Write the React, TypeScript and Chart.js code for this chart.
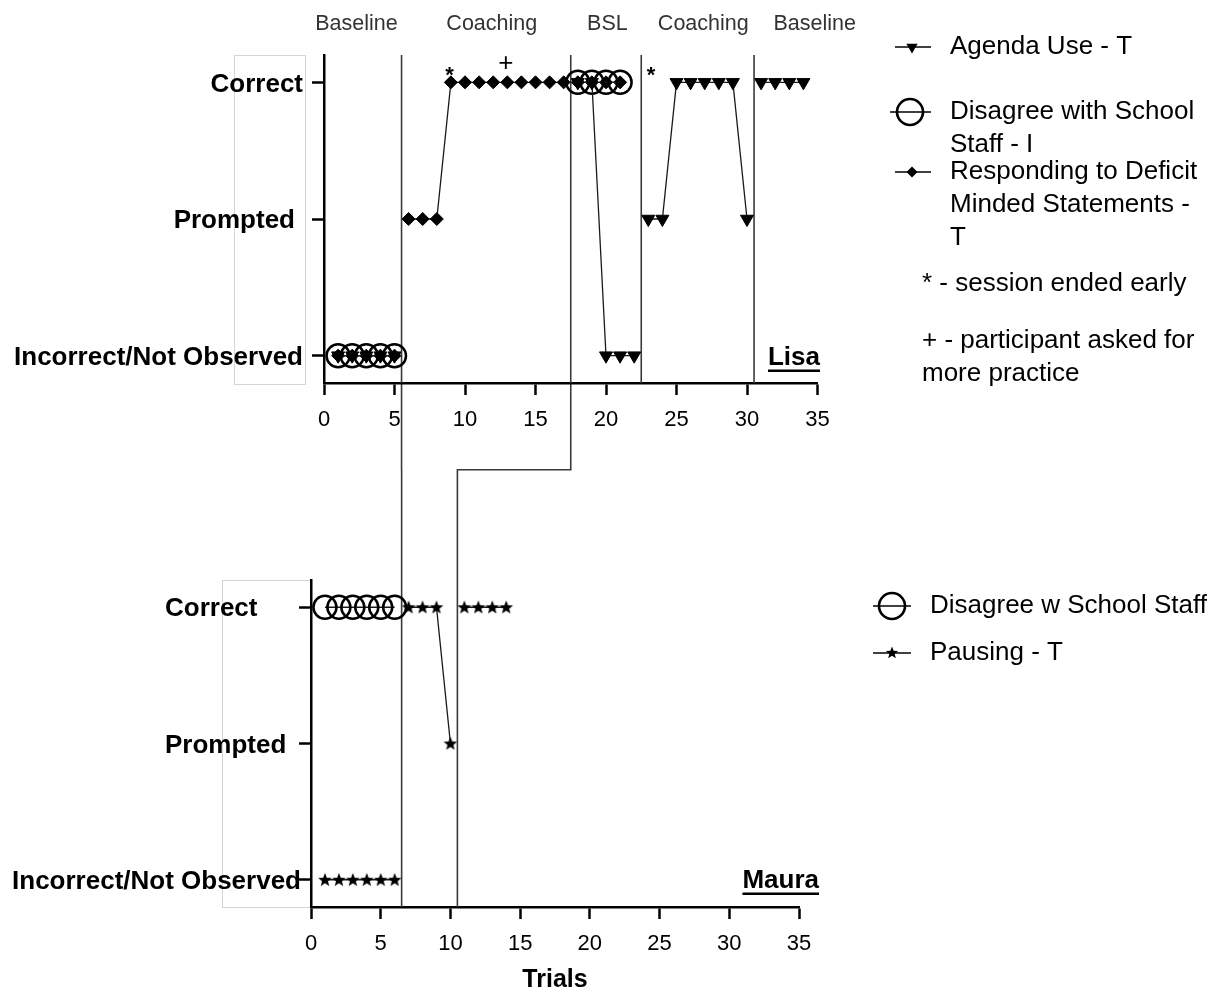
import React, { useEffect, useRef } from 'react';
import { Chart, registerables } from 'chart.js';

Chart.register(...registerables);

// ---------------- data ----------------
const lisaTrials = [1, 2, 3, 4, 5, 6, 7, 8, 9, 10, 11, 12, 13, 14, 15, 16, 17, 18, 19, 20, 21, 22, 23, 24, 25, 26, 27, 28, 29, 30, 31, 32, 33, 34];
// 0 = Incorrect/Not Observed, 1 = Prompted, 2 = Correct
const lisaAgendaUse = [0, 0, 0, 0, 0, null, null, null, null, null, null, null, null, null, null, null, null, 2, 2, 0, 0, 0, 1, 1, 2, 2, 2, 2, 2, 1, 2, 2, 2, 2];
const lisaDisagree = [0, 0, 0, 0, 0, null, null, null, null, null, null, null, null, null, null, null, null, 2, 2, 2, 2, null, null, null, null, null, null, null, null, null, null, null, null, null];
const lisaDeficit = [0, 0, 0, 0, 0, 1, 1, 1, 2, 2, 2, 2, 2, 2, 2, 2, 2, 2, 2, 2, 2, null, null, null, null, null, null, null, null, null, null, null, null, null];
const lisaPhaseChanges = [5.5, 17.5, 22.5, 30.5];
const lisaPhaseNames = ['Baseline', 'Coaching', 'BSL', 'Coaching', 'Baseline'];
const lisaPhaseNameTrials = [2.3, 11.9, 20.1, 26.9, 34.8];
const lisaNoteTrials = [8.9, 12.9, 23.2];
const lisaNoteMarks = ['*', '+', '*'];

const mauraTrials = [1, 2, 3, 4, 5, 6, 7, 8, 9, 10, 11, 12, 13, 14];
const mauraDisagree = [2, 2, 2, 2, 2, 2, null, null, null, null, null, null, null, null];
const mauraPausing = [0, 0, 0, 0, 0, 0, 2, 2, 2, 1, 2, 2, 2, 2];
const mauraPhaseChanges = [6.5, 10.5];

// phase change lines continuing from Lisa's graph into Maura's graph
const linkedPhaseTop = [5.5, 17.5];
const linkedPhaseBottom = [6.5, 10.5];

const yTickValues = [0, 1, 2];
const yTickLabels = ['Incorrect/Not Observed', 'Prompted', 'Correct'];
const xTickValues = [0, 5, 10, 15, 20, 25, 30, 35];

const lisaLegendLines = [['Agenda Use - T'], ['Disagree with School', 'Staff - I'], ['Responding to Deficit', 'Minded Statements -', 'T']];
const lisaNoteLines = ['* - session ended early', '+ - participant asked for', 'more practice'];
const mauraLegendLines = [['Disagree w School Staff'], ['Pausing - T']];

// ---------------- layout / style ----------------
const W = 1211;
const H = 992;
const FONT = '"Liberation Sans", Arial, Helvetica, sans-serif';
const INK = '#000';
const LINE_INK = '#1a1a1a';
const PHASE_INK = '#3a3a3a';

const TOP = { left: 324, right: 817.5, top: 55, bottom: 383, xAxisH: 60 };
const BOT = { left: 311, right: 799, top: 580, bottom: 907, xAxisH: 85 };

const lisaYLabelAnchor = [
  { align: 'right', x: 303 },
  { align: 'right', x: 295 },
  { align: 'right', x: 303 },
];
const mauraYLabelAnchor = [
  { align: 'right', x: 301 },
  { align: 'left', x: 165 },
  { align: 'left', x: 165 },
];

// ---------------- helpers ----------------
function toPoints(trials: number[], values: (number | null)[]) {
  return trials.map((t, i) => ({ x: t, y: values[i] }));
}

function crosses(a: number, b: number, phases: number[]) {
  return phases.some((p) => (a - p) * (b - p) < 0);
}

function pathTriangleDown(ctx: CanvasRenderingContext2D, x: number, y: number, r: number) {
  ctx.beginPath();
  ctx.moveTo(x - r * 0.866, y - r * 0.5);
  ctx.lineTo(x + r * 0.866, y - r * 0.5);
  ctx.lineTo(x, y + r);
  ctx.closePath();
}
function pathDiamond(ctx: CanvasRenderingContext2D, x: number, y: number, r: number) {
  ctx.beginPath();
  ctx.moveTo(x, y - r);
  ctx.lineTo(x + r, y);
  ctx.lineTo(x, y + r);
  ctx.lineTo(x - r, y);
  ctx.closePath();
}
function pathStar(ctx: CanvasRenderingContext2D, x: number, y: number, R: number, ri: number) {
  ctx.beginPath();
  for (let i = 0; i < 10; i++) {
    const a = -Math.PI / 2 + (i * Math.PI) / 5;
    const rr = i % 2 === 0 ? R : ri;
    const px = x + Math.cos(a) * rr;
    const py = y + Math.sin(a) * rr;
    if (i === 0) ctx.moveTo(px, py);
    else ctx.lineTo(px, py);
  }
  ctx.closePath();
}

function makeStarImage() {
  const c = document.createElement('canvas');
  c.width = 16;
  c.height = 16;
  const g = c.getContext('2d')!;
  pathStar(g, 8, 8.5, 7.2, 3.1);
  g.fillStyle = INK;
  g.fill();
  return c;
}

function drawMarker(ctx: CanvasRenderingContext2D, kind: string, x: number, y: number, x0: number, x1: number) {
  ctx.save();
  ctx.strokeStyle = INK;
  ctx.fillStyle = INK;
  ctx.lineWidth = 1.5;
  ctx.beginPath();
  ctx.moveTo(x0, y);
  ctx.lineTo(x1, y);
  ctx.stroke();
  if (kind === 'triangle') {
    pathTriangleDown(ctx, x, y, 6.5);
    ctx.fill();
  } else if (kind === 'diamond') {
    pathDiamond(ctx, x, y, 5.5);
    ctx.fill();
  } else if (kind === 'star') {
    pathStar(ctx, x, y, 6.5, 2.8);
    ctx.fill();
  } else if (kind === 'circle') {
    ctx.lineWidth = 2.6;
    ctx.beginPath();
    ctx.arc(x, y, 13, 0, Math.PI * 2);
    ctx.stroke();
  }
  ctx.restore();
}

function text(ctx: CanvasRenderingContext2D, s: string, x: number, y: number, font: string, align: CanvasTextAlign = 'left', color = INK) {
  ctx.save();
  ctx.font = font;
  ctx.fillStyle = color;
  ctx.textAlign = align;
  ctx.textBaseline = 'middle';
  ctx.fillText(s, x, y);
  ctx.restore();
}

function drawYLabels(chart: any, anchors: { align: string; x: number }[]) {
  const { ctx } = chart;
  const y = chart.scales.y;
  yTickValues.forEach((v, i) => {
    text(ctx, yTickLabels[i], anchors[i].x, y.getPixelForValue(v) + 2, `bold 26px ${FONT}`, anchors[i].align as CanvasTextAlign);
  });
}

function drawPhaseLines(chart: any, phases: number[]) {
  const { ctx, chartArea } = chart;
  const x = chart.scales.x;
  ctx.save();
  ctx.strokeStyle = PHASE_INK;
  ctx.lineWidth = 1.6;
  phases.forEach((p) => {
    const px = x.getPixelForValue(p);
    ctx.beginPath();
    ctx.moveTo(px, chartArea.top);
    ctx.lineTo(px, chartArea.bottom);
    ctx.stroke();
  });
  ctx.restore();
}

function drawName(ctx: CanvasRenderingContext2D, name: string, right: number, y: number) {
  ctx.save();
  ctx.font = `bold 26px ${FONT}`;
  const w = ctx.measureText(name).width;
  ctx.restore();
  text(ctx, name, right, y, `bold 26px ${FONT}`, 'right');
  ctx.save();
  ctx.strokeStyle = INK;
  ctx.lineWidth = 2.5;
  ctx.beginPath();
  ctx.moveTo(right - w, y + 13);
  ctx.lineTo(right, y + 13);
  ctx.stroke();
  ctx.restore();
}

function drawFrame(ctx: CanvasRenderingContext2D, x: number, y: number, w: number, h: number) {
  ctx.save();
  ctx.strokeStyle = '#d4d4d4';
  ctx.lineWidth = 1;
  ctx.strokeRect(x + 0.5, y + 0.5, w, h);
  ctx.restore();
}

function series(label: string, trials: number[], values: (number | null)[], kind: string, phases: number[], star: HTMLCanvasElement) {
  const base: any = {
    label,
    data: toPoints(trials, values),
    borderColor: LINE_INK,
    borderWidth: 1.3,
    showLine: true,
    fill: false,
    spanGaps: false,
    tension: 0,
    clip: false,
    segment: {
      borderColor: (c: any) => (crosses(c.p0.parsed.x, c.p1.parsed.x, phases) ? 'rgba(0,0,0,0)' : LINE_INK),
    },
    pointBackgroundColor: INK,
    pointBorderColor: INK,
    pointBorderWidth: 1,
  };
  if (kind === 'triangle') Object.assign(base, { pointStyle: 'triangle', pointRotation: 180, pointRadius: 7.5 });
  if (kind === 'circle') Object.assign(base, { pointStyle: 'circle', pointRadius: 11.5, pointBackgroundColor: 'rgba(0,0,0,0)', pointBorderWidth: 2.5 });
  if (kind === 'diamond') Object.assign(base, { pointStyle: 'rectRot', pointRadius: 6.5 });
  if (kind === 'star') Object.assign(base, { pointStyle: star, pointRadius: 8 });
  return base;
}

function axes(area: typeof TOP, yWidth: number, title?: string) {
  const grid = { drawOnChartArea: false, drawTicks: true, tickLength: 12, tickWidth: 2.5, tickColor: INK };
  const border = { display: true, color: INK, width: 2.5 };
  return {
    x: {
      type: 'linear',
      min: 0,
      max: 35,
      afterBuildTicks: (s: any) => {
        s.ticks = xTickValues.map((v) => ({ value: v }));
      },
      afterFit: (s: any) => {
        s.height = area.xAxisH;
      },
      ticks: { autoSkip: false, maxRotation: 0, font: { family: FONT, size: 22 }, color: INK, padding: 12 },
      grid,
      border,
      title: title
        ? { display: true, text: title, font: { family: FONT, size: 25, weight: 'bold' }, color: INK, padding: { top: 0, bottom: -3 } }
        : { display: false },
    },
    y: {
      type: 'linear',
      min: -0.2,
      max: 2.2,
      afterBuildTicks: (s: any) => {
        s.ticks = yTickValues.map((v) => ({ value: v }));
      },
      afterFit: (s: any) => {
        s.width = yWidth;
      },
      ticks: { display: false },
      grid,
      border,
    },
  };
}

export default function App() {
  const topRef = useRef<HTMLCanvasElement>(null);
  const botRef = useRef<HTMLCanvasElement>(null);

  useEffect(() => {
    const star = makeStarImage();

    const lisaPlugin = {
      id: 'lisaOverlay',
      beforeDraw(chart: any) {
        drawFrame(chart.ctx, 234, 55, 71, 329);
      },
      beforeDatasetsDraw(chart: any) {
        drawPhaseLines(chart, lisaPhaseChanges);
      },
      afterDraw(chart: any) {
        const { ctx, chartArea } = chart;
        const x = chart.scales.x;
        const y = chart.scales.y;
        drawYLabels(chart, lisaYLabelAnchor);
        lisaPhaseNames.forEach((n, i) => {
          text(ctx, n, x.getPixelForValue(lisaPhaseNameTrials[i]), chartArea.top - 31, `21.5px ${FONT}`, 'center', '#333');
        });
        lisaNoteMarks.forEach((m, i) => {
          const px = x.getPixelForValue(lisaNoteTrials[i]);
          if (m === '*') text(ctx, m, px, y.getPixelForValue(2) - 6, `bold 22px ${FONT}`, 'center');
          else text(ctx, m, px, y.getPixelForValue(2) - 19, `26px ${FONT}`, 'center');
        });
        drawName(ctx, 'Lisa', 820, y.getPixelForValue(0) + 2);
        // legend
        const kinds = ['triangle', 'circle', 'diamond'];
        const rowY = [47, 112, 172];
        lisaLegendLines.forEach((lines, i) => {
          drawMarker(ctx, kinds[i], i === 1 ? 910 : 912, rowY[i], i === 1 ? 890 : 895, 931);
          lines.forEach((l, j) => text(ctx, l, 950, rowY[i] + j * 33, `26px ${FONT}`));
        });
        const noteY = [284, 341, 374];
        lisaNoteLines.forEach((l, j) => text(ctx, l, 922, noteY[j], `26px ${FONT}`));
      },
    };

    const top = new Chart(topRef.current!, {
      type: 'line',
      data: {
        datasets: [
          series('Agenda Use - T', lisaTrials, lisaAgendaUse, 'triangle', lisaPhaseChanges, star),
          series('Disagree with School Staff - I', lisaTrials, lisaDisagree, 'circle', lisaPhaseChanges, star),
          series('Responding to Deficit Minded Statements - T', lisaTrials, lisaDeficit, 'diamond', lisaPhaseChanges, star),
        ],
      },
      options: {
        responsive: false,
        animation: false,
        devicePixelRatio: 1,
        events: [],
        layout: { padding: { left: 0, top: TOP.top, right: W - TOP.right, bottom: H - TOP.bottom - TOP.xAxisH } },
        plugins: { legend: { display: false }, tooltip: { enabled: false } },
        scales: axes(TOP, TOP.left) as any,
      },
      plugins: [lisaPlugin],
    });

    const mauraPlugin = {
      id: 'mauraOverlay',
      beforeDraw(chart: any) {
        drawFrame(chart.ctx, 222, 580, 88, 327);
      },
      beforeDatasetsDraw(chart: any) {
        const { ctx } = chart;
        drawPhaseLines(chart, mauraPhaseChanges);
        // connectors from Lisa's phase lines
        const y0 = top.chartArea.bottom;
        const y1 = chart.chartArea.top;
        const jog = y0 + (y1 - y0) * 0.44;
        ctx.save();
        ctx.strokeStyle = PHASE_INK;
        ctx.lineWidth = 1.6;
        linkedPhaseTop.forEach((tp, i) => {
          const tx = top.scales.x.getPixelForValue(tp);
          const bx = chart.scales.x.getPixelForValue(linkedPhaseBottom[i]);
          ctx.beginPath();
          ctx.moveTo(tx, y0);
          ctx.lineTo(tx, jog);
          ctx.lineTo(bx, jog);
          ctx.lineTo(bx, y1);
          ctx.stroke();
        });
        ctx.restore();
      },
      afterDraw(chart: any) {
        const { ctx } = chart;
        const y = chart.scales.y;
        drawYLabels(chart, mauraYLabelAnchor);
        drawName(ctx, 'Maura', 819, y.getPixelForValue(0) + 1);
        const kinds = ['circle', 'star'];
        const rowY = [606, 653];
        mauraLegendLines.forEach((lines, i) => {
          drawMarker(ctx, kinds[i], 892, rowY[i], 873, 911);
          lines.forEach((l, j) => text(ctx, l, 930, rowY[i] + j * 33, `26px ${FONT}`));
        });
      },
    };

    const bottom = new Chart(botRef.current!, {
      type: 'line',
      data: {
        datasets: [
          series('Disagree w School Staff', mauraTrials, mauraDisagree, 'circle', mauraPhaseChanges, star),
          series('Pausing - T', mauraTrials, mauraPausing, 'star', mauraPhaseChanges, star),
        ],
      },
      options: {
        responsive: false,
        animation: false,
        devicePixelRatio: 1,
        events: [],
        layout: { padding: { left: 0, top: BOT.top, right: W - BOT.right, bottom: H - BOT.bottom - BOT.xAxisH } },
        plugins: { legend: { display: false }, tooltip: { enabled: false } },
        scales: axes(BOT, BOT.left, 'Trials') as any,
      },
      plugins: [mauraPlugin],
    });

    return () => {
      bottom.destroy();
      top.destroy();
    };
  }, []);

  const canvasStyle: React.CSSProperties = { position: 'absolute', left: 0, top: 0, width: W, height: H };
  return (
    <div style={{ position: 'absolute', left: 0, top: 0, width: W, height: H, background: '#fff', overflow: 'hidden' }}>
      <canvas ref={botRef} width={W} height={H} style={canvasStyle} />
      <canvas ref={topRef} width={W} height={H} style={canvasStyle} />
    </div>
  );
}
